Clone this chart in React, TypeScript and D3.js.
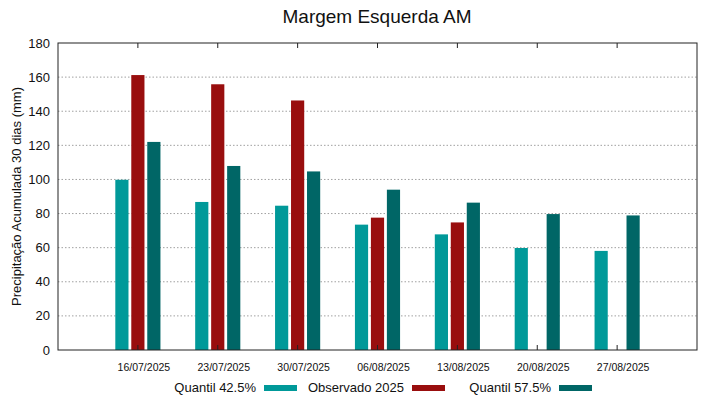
import { useEffect, useRef } from "react";
import * as d3 from "d3";

const dates = ["16/07/2025", "23/07/2025", "30/07/2025", "06/08/2025", "13/08/2025", "20/08/2025", "27/08/2025"];
const quantil425 = [99.8, 86.8, 84.6, 73.5, 67.8, 59.8, 58.1];
const observado = [161.2, 155.8, 146.3, 77.6, 74.8, null, null];
const quantil575 = [122.0, 107.9, 104.7, 94.0, 86.4, 79.7, 78.9];
const yTicks = [0, 20, 40, 60, 80, 100, 120, 140, 160, 180];

const SERIES = [
  { name: "Quantil 42.5%", values: quantil425, color: "#009999" },
  { name: "Observado 2025", values: observado, color: "#990e0e" },
  { name: "Quantil 57.5%", values: quantil575, color: "#006666" },
];

const WIDTH = 719;
const HEIGHT = 399;
const PLOT = { left: 58, right: 697, top: 43, bottom: 350 };
const FONT = "Liberation Sans, Arial, sans-serif";

export default function App() {
  const svgRef = useRef<SVGSVGElement>(null);

  useEffect(() => {
    const svg = d3.select(svgRef.current);
    svg.selectAll("*").remove();

    svg.append("rect").attr("width", WIDTH).attr("height", HEIGHT).attr("fill", "#ffffff");

    const x = d3.scaleLinear().domain([0, dates.length + 1]).range([PLOT.left, PLOT.right]);
    const y = d3.scaleLinear().domain([0, 180]).range([PLOT.bottom, PLOT.top]);
    const step = x(1) - x(0);
    const barW = step * 0.165;
    const offset = step * 0.2;

    // Title
    svg.append("text")
      .attr("x", 377)
      .attr("y", 23)
      .attr("text-anchor", "middle")
      .attr("font-size", "19px")
      .attr("font-family", FONT)
      .attr("fill", "#111")
      .text("Margem Esquerda AM");

    // Grid lines (dotted)
    yTicks.filter((t) => t > 0 && t < 180).forEach((t) => {
      svg.append("line")
        .attr("x1", PLOT.left)
        .attr("x2", PLOT.right)
        .attr("y1", y(t))
        .attr("y2", y(t))
        .attr("stroke", "#a0a0a0")
        .attr("stroke-width", 1)
        .attr("stroke-dasharray", "1.5,2");
    });

    // Bars
    SERIES.forEach((s, si) => {
      s.values.forEach((v, i) => {
        if (v == null) return;
        const cx = x(i + 1) + (si - 1) * offset;
        svg.append("rect")
          .attr("x", cx - barW / 2)
          .attr("y", y(v))
          .attr("width", barW)
          .attr("height", y(0) - y(v))
          .attr("fill", s.color);
      });
    });

    // x ticks (inside, top and bottom)
    dates.forEach((d, i) => {
      const cx = x(i + 1);
      svg.append("line")
        .attr("x1", cx).attr("x2", cx)
        .attr("y1", PLOT.top).attr("y2", PLOT.top + 5)
        .attr("stroke", "#222");
      svg.append("line")
        .attr("x1", cx).attr("x2", cx)
        .attr("y1", PLOT.bottom).attr("y2", PLOT.bottom - 5)
        .attr("stroke", "#222");
      svg.append("text")
        .attr("x", cx + 6)
        .attr("y", 371)
        .attr("text-anchor", "middle")
        .attr("font-size", "10.5px")
        .attr("font-family", FONT)
        .attr("fill", "#111")
        .text(d);
    });

    // y tick labels
    yTicks.forEach((t) => {
      svg.append("text")
        .attr("x", 50)
        .attr("y", y(t))
        .attr("text-anchor", "end")
        .attr("dominant-baseline", "central")
        .attr("font-size", "13px")
        .attr("font-family", FONT)
        .attr("fill", "#111")
        .text(t);
    });

    // Frame
    svg.append("rect")
      .attr("x", PLOT.left)
      .attr("y", PLOT.top)
      .attr("width", PLOT.right - PLOT.left)
      .attr("height", PLOT.bottom - PLOT.top)
      .attr("fill", "none")
      .attr("stroke", "#222")
      .attr("stroke-width", 1);

    // y axis label
    svg.append("text")
      .attr("transform", `translate(21,${(PLOT.top + PLOT.bottom) / 2}) rotate(-90)`)
      .attr("text-anchor", "middle")
      .attr("font-size", "13px")
      .attr("font-family", FONT)
      .attr("fill", "#111")
      .text("Precipitação Acumulada 30 dias (mm)");

    // Legend
    const legendText = [256, 404, 551];
    SERIES.forEach((s, si) => {
      const tx = legendText[si];
      svg.append("text")
        .attr("x", tx)
        .attr("y", 392)
        .attr("text-anchor", "end")
        .attr("font-size", "13px")
        .attr("font-family", FONT)
        .attr("fill", "#111")
        .text(s.name);
      svg.append("rect")
        .attr("x", tx + 8)
        .attr("y", 385)
        .attr("width", 33)
        .attr("height", 6)
        .attr("fill", s.color);
    });
  }, []);

  return (
    <svg
      ref={svgRef}
      width={WIDTH}
      height={HEIGHT}
      style={{ position: "absolute", left: 0, top: 0 }}
    />
  );
}
